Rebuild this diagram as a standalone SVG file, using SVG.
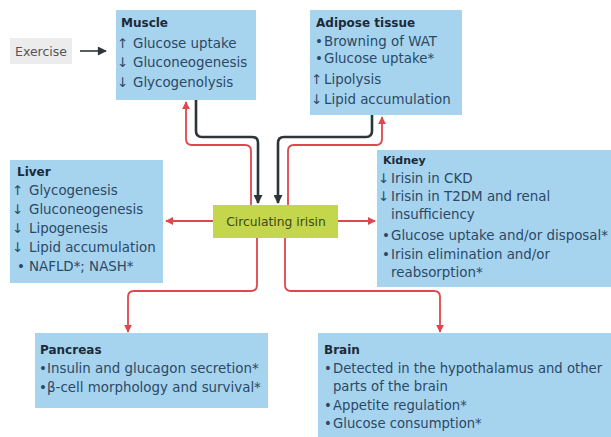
<svg xmlns="http://www.w3.org/2000/svg" width="611" height="437" viewBox="0 0 611 437">
<defs>
<style>
.box{fill:#a6d4ee}
.hd{font-family:"DejaVu Sans",sans-serif;font-weight:bold;font-size:12px;fill:#1c2a3a}
.tx{font-family:"DejaVu Sans",sans-serif;font-size:13.4px;fill:#2c4866}
.red{fill:none;stroke:#e0464d;stroke-width:1.8}
.blk{fill:none;stroke:#2d3539;stroke-width:2.6}
</style>
<marker id="ar" viewBox="0 0 10 10" refX="9" refY="5" markerWidth="8" markerHeight="8" markerUnits="userSpaceOnUse" orient="auto"><path d="M0,0 L10,5 L0,10 z" fill="#e0464d"/></marker>
<marker id="ab" viewBox="0 0 10 10" refX="9" refY="5" markerWidth="10" markerHeight="9" markerUnits="userSpaceOnUse" orient="auto"><path d="M0,0 L10,5 L0,10 z" fill="#2d3539"/></marker>
</defs>
<rect width="611" height="437" fill="#ffffff"/>

<g id="connectors">
<path class="blk" d="M80,51 H106" style="stroke-width:1.6" marker-end="url(#ab)"/>
<path class="blk" d="M196,100 V131 Q196,137 202,137 H252 Q258,137 258,143 V203" marker-end="url(#ab)"/>
<path class="red" d="M251,205 V151 Q251,145 245,145 H192 Q186,145 186,139 V102" marker-end="url(#ar)"/>
<path class="blk" d="M372,115 V131 Q372,137 366,137 H284 Q278,137 278,143 V203" marker-end="url(#ab)"/>
<path class="red" d="M288,205 V151 Q288,145 294,145 H376 Q382,145 382,139 V117" marker-end="url(#ar)"/>
<path class="red" d="M213,221 H166" marker-end="url(#ar)"/>
<path class="red" d="M338,221 H375" marker-end="url(#ar)"/>
<path class="red" d="M257,238 V285 Q257,291 251,291 H134 Q128,291 128,297 V332" marker-end="url(#ar)"/>
<path class="red" d="M285,238 V285 Q285,291 291,291 H434 Q440,291 440,297 V332" marker-end="url(#ar)"/>
</g>

<g id="exercise">
<rect x="10" y="38" width="62" height="26" fill="#ececec"/>
<text x="41" y="56" text-anchor="middle" style="font-family:'DejaVu Sans',sans-serif;font-size:12.5px;fill:#555">Exercise</text>
</g>

<g id="muscle">
<rect class="box" x="116" y="10" width="140" height="90"/>
<text class="hd" x="121" y="27">Muscle</text>
<text class="tx" y="48"><tspan x="117">↑</tspan><tspan x="133">Glucose uptake</tspan></text>
<text class="tx" y="67"><tspan x="117">↓</tspan><tspan x="133">Gluconeogenesis</tspan></text>
<text class="tx" y="87"><tspan x="117">↓</tspan><tspan x="133">Glycogenolysis</tspan></text>
</g>

<g id="adipose">
<rect class="box" x="310" y="10" width="152" height="105"/>
<text class="hd" x="316" y="27">Adipose tissue</text>
<text class="tx" y="46"><tspan x="315">•</tspan><tspan x="324">Browning of WAT</tspan></text>
<text class="tx" y="63"><tspan x="315">•</tspan><tspan x="324">Glucose uptake*</tspan></text>
<text class="tx" y="84"><tspan x="311">↑</tspan><tspan x="324">Lipolysis</tspan></text>
<text class="tx" y="104"><tspan x="311">↓</tspan><tspan x="324">Lipid accumulation</tspan></text>
</g>

<g id="liver">
<rect class="box" x="10" y="160" width="153" height="123"/>
<text class="hd" x="17" y="176">Liver</text>
<text class="tx" y="195"><tspan x="12">↑</tspan><tspan x="29">Glycogenesis</tspan></text>
<text class="tx" y="214"><tspan x="12">↓</tspan><tspan x="29">Gluconeogenesis</tspan></text>
<text class="tx" y="233"><tspan x="12">↓</tspan><tspan x="29">Lipogenesis</tspan></text>
<text class="tx" y="252"><tspan x="12">↓</tspan><tspan x="29">Lipid accumulation</tspan></text>
<text class="tx" y="271"><tspan x="17">•</tspan><tspan x="29">NAFLD*; NASH*</tspan></text>
</g>

<g id="kidney">
<rect class="box" x="377" y="150" width="234" height="137"/>
<text class="hd" x="383" y="164" style="font-size:11px">Kidney</text>
<text class="tx" y="183"><tspan x="378">↓</tspan><tspan x="391">Irisin in CKD</tspan></text>
<text class="tx" y="201"><tspan x="378">↓</tspan><tspan x="391">Irisin in T2DM and renal</tspan></text>
<text class="tx" y="219"><tspan x="391">insufficiency</tspan></text>
<text class="tx" y="240"><tspan x="382">•</tspan><tspan x="391">Glucose uptake and/or disposal*</tspan></text>
<text class="tx" y="259"><tspan x="382">•</tspan><tspan x="391">Irisin elimination and/or</tspan></text>
<text class="tx" y="277"><tspan x="391">reabsorption*</tspan></text>
</g>

<g id="irisin">
<rect x="213" y="205" width="125" height="33" fill="#c4d64c"/>
<text x="276" y="226" text-anchor="middle" style="font-family:'DejaVu Sans',sans-serif;font-size:12.3px;fill:#3d4a14">Circulating irisin</text>
</g>

<g id="pancreas">
<rect class="box" x="35" y="333" width="233" height="75"/>
<text class="hd" x="40" y="354">Pancreas</text>
<text class="tx" y="373"><tspan x="39">•</tspan><tspan x="47">Insulin and glucagon secretion*</tspan></text>
<text class="tx" y="392"><tspan x="39">•</tspan><tspan x="47">β-cell morphology and survival*</tspan></text>
</g>

<g id="brain">
<rect class="box" x="318" y="333" width="293" height="104"/>
<text class="hd" x="324" y="354">Brain</text>
<text class="tx" y="373" style="font-size:13.2px"><tspan x="324">•</tspan><tspan x="333">Detected in the hypothalamus and other</tspan></text>
<text class="tx" y="391" style="font-size:13.2px"><tspan x="333">parts of the brain</tspan></text>
<text class="tx" y="410" style="font-size:13.2px"><tspan x="324">•</tspan><tspan x="333">Appetite regulation*</tspan></text>
<text class="tx" y="428" style="font-size:13.2px"><tspan x="324">•</tspan><tspan x="333">Glucose consumption*</tspan></text>
</g>
</svg>
